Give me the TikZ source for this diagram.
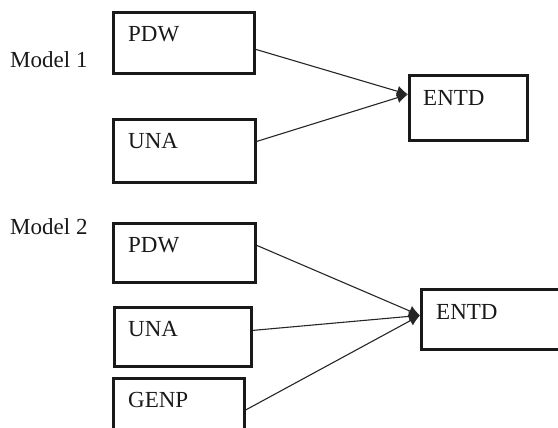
\documentclass[tikz,border=0pt]{standalone}
\usepackage{fontspec}
\setmainfont{Liberation Serif}
\usetikzlibrary{arrows.meta}
\begin{document}
\begin{tikzpicture}[x=1pt,y=-1pt,
  box/.style={draw=black!90, line width=2.8pt, inner sep=0pt, anchor=north west},
  lbl/.style={font=\fontsize{23}{27}\selectfont, text=black!90, inner sep=0pt, anchor=base west},
  link/.style={draw=black!85, line width=1.1pt, -{Latex[length=11pt,width=11pt]}}]
\clip (0,0) rectangle (558,428);

% Model 1
\node[lbl] (m1) at (10,68) {Model 1};
\node[box, minimum width=141pt, minimum height=61pt] (pdwA) at (112,11) {};
\node[box, minimum width=142pt, minimum height=63pt] (unaA) at (112,118) {};
\node[box, minimum width=118pt, minimum height=65pt] (entdA) at (408,74) {};
\node[lbl] (pdwAt) at (128,42) {PDW};
\node[lbl] (unaAt) at (128,149) {UNA};
\node[lbl] (entdAt) at (423,106) {ENTD};
\draw[link] ([yshift=-6.5pt]pdwA.east) -- ([yshift=13.5pt]entdA.west);
\draw[link] ([yshift=9.5pt]unaA.east) -- ([yshift=13.5pt]entdA.west);

% Model 2
\node[lbl] (m2) at (10,235) {Model 2};
\node[box, minimum width=142pt, minimum height=59pt] (pdwB) at (112,222) {};
\node[box, minimum width=137pt, minimum height=59pt] (unaB) at (113,306) {};
\node[box, minimum width=131pt, minimum height=63pt] (genpB) at (112,377) {};
\node[box, minimum width=150pt, minimum height=60pt] (entdB) at (420,288) {};
\node[lbl] (pdwBt) at (128,252) {PDW};
\node[lbl] (unaBt) at (128,336) {UNA};
\node[lbl] (genpBt) at (128,407) {GENP};
\node[lbl] (entdBt) at (436,319) {ENTD};
\draw[link] ([yshift=7.5pt]pdwB.east) -- ([yshift=4pt]entdB.west);
\draw[link] ([yshift=6.5pt]unaB.east) -- ([yshift=4pt]entdB.west);
\draw[link] (genpB.east) -- ([yshift=4pt]entdB.west);
\end{tikzpicture}
\end{document}
